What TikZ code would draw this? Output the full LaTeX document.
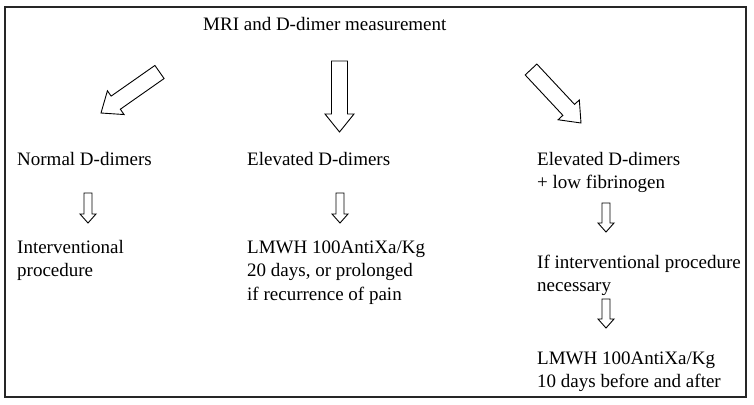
\documentclass[tikz,border=0pt]{standalone}
\usepackage{fontspec}
\setmainfont{Liberation Serif}
\usetikzlibrary{calc}
\newcommand\blockarrow[5]{% #1 start, #2 end, #3 half shaft, #4 half head, #5 head length
  \coordinate (hb) at ($(#2)!#5!(#1)$);
  \draw[barrow] ($(#1)!#3!90:(#2)$) -- ($(hb)!#3!90:(#2)$) -- ($(hb)!#4!90:(#2)$) -- (#2)
    -- ($(hb)!#4!-90:(#2)$) -- ($(hb)!#3!-90:(#2)$) -- ($(#1)!#3!-90:(#2)$) -- cycle;
}
\begin{document}
\begin{tikzpicture}[x=1pt,y=-1pt,
  txt/.style={anchor=base west, inner sep=0pt, font=\fontsize{19}{23.5}\selectfont},
  frame/.style={draw=black!85, line width=1.3pt},
  barrow/.style={draw=black, line width=0.9pt, fill=white, line join=miter}]
\useasboundingbox (0,0) rectangle (754,404);
\draw[frame] (5,7) rectangle (746,397);

\node[txt] (mri) at (203,31) {MRI and D-dimer measurement};
\node[txt] (n1) at (17,165) {Normal D-dimers};
\node[txt] (n2) at (247,165) {Elevated D-dimers};
\node[txt] (n3) at (537,165) {\begin{tabular}[t]{@{}l@{}}Elevated D-dimers\\+ low fibrinogen\end{tabular}};
\node[txt] (n4) at (17,253) {\begin{tabular}[t]{@{}l@{}}Interventional\\procedure\end{tabular}};
\node[txt] (n5) at (247,253) {\begin{tabular}[t]{@{}l@{}}LMWH 100AntiXa/Kg\\20 days, or prolonged\\if recurrence of pain\end{tabular}};
\node[txt] (n6) at (537,268) {\begin{tabular}[t]{@{}l@{}}If interventional procedure\\necessary\end{tabular}};
\node[txt] (n7) at (537,364) {\begin{tabular}[t]{@{}l@{}}LMWH 100AntiXa/Kg\\10 days before and after\end{tabular}};

% large arrows
\coordinate (a1s) at (159.5,72);  \coordinate (a1e) at (101,113);
\coordinate (a2s) at (339.5,61);  \coordinate (a2e) at (339.5,132);
\coordinate (a3s) at (531,69.5);  \coordinate (a3e) at (581,123);
\blockarrow{a1s}{a1e}{8pt}{14.5pt}{18pt}
\blockarrow{a2s}{a2e}{8pt}{14.5pt}{18pt}
\blockarrow{a3s}{a3e}{8pt}{14.5pt}{18pt}

% small arrows
\coordinate (b1s) at (88,193);  \coordinate (b1e) at (88,223);
\coordinate (b2s) at (340,193); \coordinate (b2e) at (340,223);
\coordinate (b3s) at (606,203); \coordinate (b3e) at (606,232);
\coordinate (b4s) at (606,299); \coordinate (b4e) at (606,328);
\blockarrow{b1s}{b1e}{4pt}{8pt}{9pt}
\blockarrow{b2s}{b2e}{4pt}{8pt}{9pt}
\blockarrow{b3s}{b3e}{4pt}{8pt}{9pt}
\blockarrow{b4s}{b4e}{4pt}{8pt}{9pt}
\end{tikzpicture}
\end{document}
